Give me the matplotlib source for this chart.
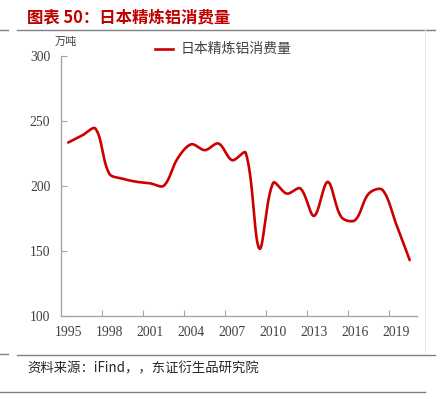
import numpy as np
import matplotlib
matplotlib.use("Agg")
import matplotlib.pyplot as plt
from matplotlib.lines import Line2D

years = list(range(1995, 2021))
consumption = [233.4, 238.7, 244.0, 209.5, 205.5, 203.2, 202.0, 200.2, 221.0, 232.0,
               227.5, 232.6, 219.8, 225.4, 151.8, 202.3, 194.1, 198.0, 177.0, 203.1,
               176.0, 173.7, 194.1, 197.0, 171.0, 143.0]
tick_labels = ["1995", "1998", "2001", "2004", "2007", "2010", "2013", "2016", "2019"]
series_name = "日本精炼铝消费量"
title_text = "图表 50：日本精炼铝消费量"
source_text = "资料来源：iFind，，东证衍生品研究院"
unit_text = "万吨"

RED = "#cc0000"
GRAY = "#a6a6a6"
CJK = ["Noto Sans CJK SC", "DejaVu Sans"]
SERIF = ["Liberation Serif", "Noto Sans CJK SC"]


def smooth(xs, ys, sxp, syp, n=30):
    # spreadsheet-style Bezier smoothing; control lengths weighted by on-screen segment length
    xs = np.asarray(xs, float); ys = np.asarray(ys, float)
    P = np.column_stack([xs * sxp, ys * syp])
    m = len(P)
    cin = P.copy(); cout = P.copy()
    for i in range(m):
        a = P[max(i - 1, 0)]; b = P[min(i + 1, m - 1)]
        T = b - a
        dp = np.linalg.norm(P[i] - a); dn = np.linalg.norm(b - P[i])
        if dp + dn == 0:
            continue
        if 0 < i < m - 1:
            cin[i] = P[i] - T * dp / (dp + dn) / 3
            cout[i] = P[i] + T * dn / (dp + dn) / 3
    ox, oy = [], []
    t = np.linspace(0, 1, n, endpoint=False)[:, None]
    for i in range(m - 1):
        p0, c1, c2, p3 = P[i], cout[i], cin[i + 1], P[i + 1]
        bz = ((1 - t) ** 3) * p0 + 3 * ((1 - t) ** 2) * t * c1 + 3 * (1 - t) * t ** 2 * c2 + t ** 3 * p3
        ox.extend(bz[:, 0]); oy.extend(bz[:, 1])
    ox.append(P[-1, 0]); oy.append(P[-1, 1])
    return np.array(ox) / sxp, np.array(oy) / syp


fig = plt.figure(figsize=(4.45, 3.99), dpi=100)
ax = fig.add_axes([0.138, 0.208, 0.798, 0.652])

sx, sy = smooth(years, consumption, 13.74, 1.3)
ax.plot(sx, sy, color=RED, lw=1.9, solid_capstyle="round", solid_joinstyle="round")

ax.set_xlim(1994.5, 2020.5)
ax.set_ylim(100, 300)
ax.set_yticks([100, 150, 200, 250, 300])
ax.set_yticklabels(["100", "150", "200", "250", "300"], family=SERIF, fontsize=9.8, color="#404040")
ax.tick_params(axis="y", direction="in", length=4, color=GRAY, width=0.8, pad=8)

ax.set_xticks([1997.5 + 3 * i for i in range(8)])
ax.set_xticklabels([])
ax.tick_params(axis="x", which="major", direction="in", length=4, color=GRAY, width=0.8)
ax.set_xticks([int(t) for t in tick_labels], minor=True)
ax.set_xticklabels(tick_labels, minor=True, family=SERIF, fontsize=9.8, color="#404040")
ax.tick_params(axis="x", which="minor", length=0, pad=7)

for s in ["top", "right"]:
    ax.spines[s].set_visible(False)
for s in ["left", "bottom"]:
    ax.spines[s].set_color(GRAY)
    ax.spines[s].set_linewidth(1.0)

fig.text(55 / 445, 1 - 42 / 399, unit_text, family=CJK, fontsize=8, color="#404040",
         ha="left", va="center")

# legend
fig.add_artist(Line2D([155 / 445, 173 / 445], [1 - 49 / 399] * 2, color=RED, lw=1.9))
fig.text(181 / 445, 1 - 49 / 399, series_name, family=CJK, fontsize=10, color="#404040",
         ha="left", va="center")

# title and frame lines
fig.text(27 / 445, 1 - 17 / 399, title_text, family=CJK, fontsize=11.8, fontweight="bold",
         color="#c00000", ha="left", va="center")
fig.add_artist(Line2D([17 / 445, 435 / 445], [1 - 29.5 / 399] * 2, color="#808080", lw=1.0))
fig.add_artist(Line2D([0, 8 / 445], [1 - 30 / 399] * 2, color="#808080", lw=1.0))
fig.add_artist(Line2D([425 / 445, 425 / 445], [1 - 30 / 399, 1 - 352 / 399], color="#e8e8e8", lw=0.8))
fig.add_artist(Line2D([17 / 445, 435 / 445], [1 - 355 / 399] * 2, color="#808080", lw=1.0))
fig.add_artist(Line2D([0, 8 / 445], [1 - 354 / 399] * 2, color="#808080", lw=1.0))
fig.text(27 / 445, 1 - 368 / 399, source_text, family=CJK, fontsize=9.6, color="#262626",
         ha="left", va="center")
fig.add_artist(Line2D([0, 425 / 445], [1 - 391.5 / 399] * 2, color="#808080", lw=1.0))

fig.savefig("out.png", dpi=100)
